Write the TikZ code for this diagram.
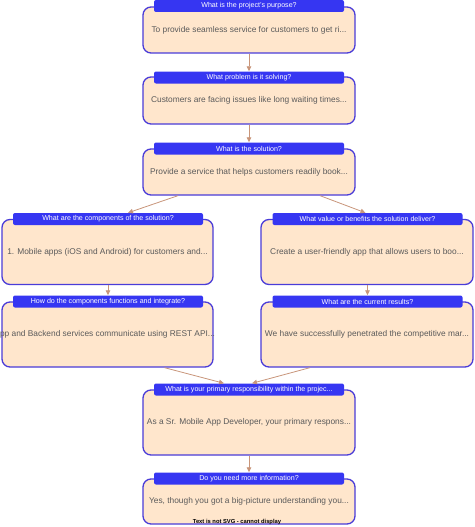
\documentclass[tikz,border=0pt]{standalone}
\usepackage{fontspec}
\setmainfont{Liberation Sans}
\usetikzlibrary{arrows.meta,positioning}
\definecolor{boxfill}{HTML}{FFE6CC}
\definecolor{boxline}{HTML}{4A3CD8}
\definecolor{tabfill}{HTML}{3636F2}
\definecolor{linkcol}{HTML}{C8957A}
\definecolor{bodytext}{HTML}{5A5A5A}
\tikzset{
    %Define standard arrow tip
    >={Triangle[length=5pt,width=4.5pt]},
    %Define style for boxes
    infobox/.style={
           rectangle,
           rounded corners=8pt,
           draw=boxline, line width=1.3pt,
           fill=boxfill,
           minimum width=212pt,
           inner sep=0pt,
           font=\fontsize{8.35}{9}\selectfont,
           text=bodytext,
           text centered},
    headtab/.style={
           rectangle,
           rounded corners=2pt,
           fill=tabfill,
           minimum width=190pt,
           minimum height=12pt,
           inner sep=0pt,
           font=\fontsize{7.1}{7.5}\selectfont,
           text=white,
           text centered},
    % Define arrow style
    link/.style={
           ->,
           draw=linkcol,
           line width=0.8pt}
}
\begin{document}
\begin{tikzpicture}[x=1pt,y=-1pt]
\useasboundingbox (0,0) rectangle (474,527);
\begin{scope}
\clip (0,0) rectangle (474,527);
 %boxes
\node[infobox, minimum height=46pt](purpose) at (249,30){To provide seamless service for customers to get ri...};
\node[infobox, minimum height=47pt](problem) at (249,100.5){Customers are facing issues like long waiting times...};
\node[infobox, minimum height=46pt](solution) at (249,172){Provide a service that helps customers readily book...};
\node[infobox, minimum width=211pt, minimum height=65pt](components) at (107.5,252){1. Mobile apps (iOS and Android) for customers and...};
\node[infobox, minimum height=65pt](value) at (367,252){Create a user-friendly app that allows users to boo...};
\node[infobox, minimum width=211pt, minimum height=65pt](integrate) at (107.5,334.5){\makebox[0pt]{pp and Backend services communicate using REST API...}};
\node[infobox, minimum height=65pt](results) at (367,334.5){We have successfully penetrated the competitive mar...};
\node[infobox, minimum height=65pt](role) at (249,422.5){As a Sr. Mobile App Developer, your primary respons...};
\node[infobox, minimum height=45pt](moreinfo) at (249,501.5){Yes, though you got a big-picture understanding you...};

 %header tabs
\node[headtab](purposehead) at (249,6){What is the project's purpose?};
\node[headtab](problemhead) at (249,77.5){What problem is it solving?};
\node[headtab](solutionhead) at (249,148.5){What is the solution?};
\node[headtab](componentshead) at (108,219){What are the components of the solution?};
\node[headtab](valuehead) at (367.5,219){What value or benefits the solution deliver?};
\node[headtab](integratehead) at (108,301.5){How do the components functions and integrate?};
\node[headtab](resultshead) at (367.5,301.5){What are the current results?};
\node[headtab](rolehead) at (249,389.5){What is your primary responsibility within the projec...};
\node[headtab](moreinfohead) at (249,478.5){Do you need more information?};

\node[font=\bfseries\fontsize{5.8}{6}\selectfont](nosvg) at (237,521.5){Text is not SVG - cannot display};
\end{scope}

 %links
\draw[link] (purpose.south) -- (purposehead.south |- problemhead.north);
\draw[link] (problem.south) -- (solutionhead.north);
\draw[link] ([xshift=-71pt]solution.south) -- ([xshift=20pt]componentshead.north);
\draw[link] ([xshift=71pt]solution.south) -- ([xshift=-2pt]valuehead.north);
\draw[link] ([xshift=0.5pt]components.south) -- (integratehead.north);
\draw[link] ([xshift=0.5pt]value.south) -- (resultshead.north);
\draw[link] ([xshift=57pt]integrate.south) -- ([xshift=-25pt]rolehead.north);
\draw[link] ([xshift=-57pt]results.south) -- ([xshift=3pt]rolehead.north);
\draw[link] (role.south) -- (moreinfohead.north);
\end{tikzpicture}
\end{document}
